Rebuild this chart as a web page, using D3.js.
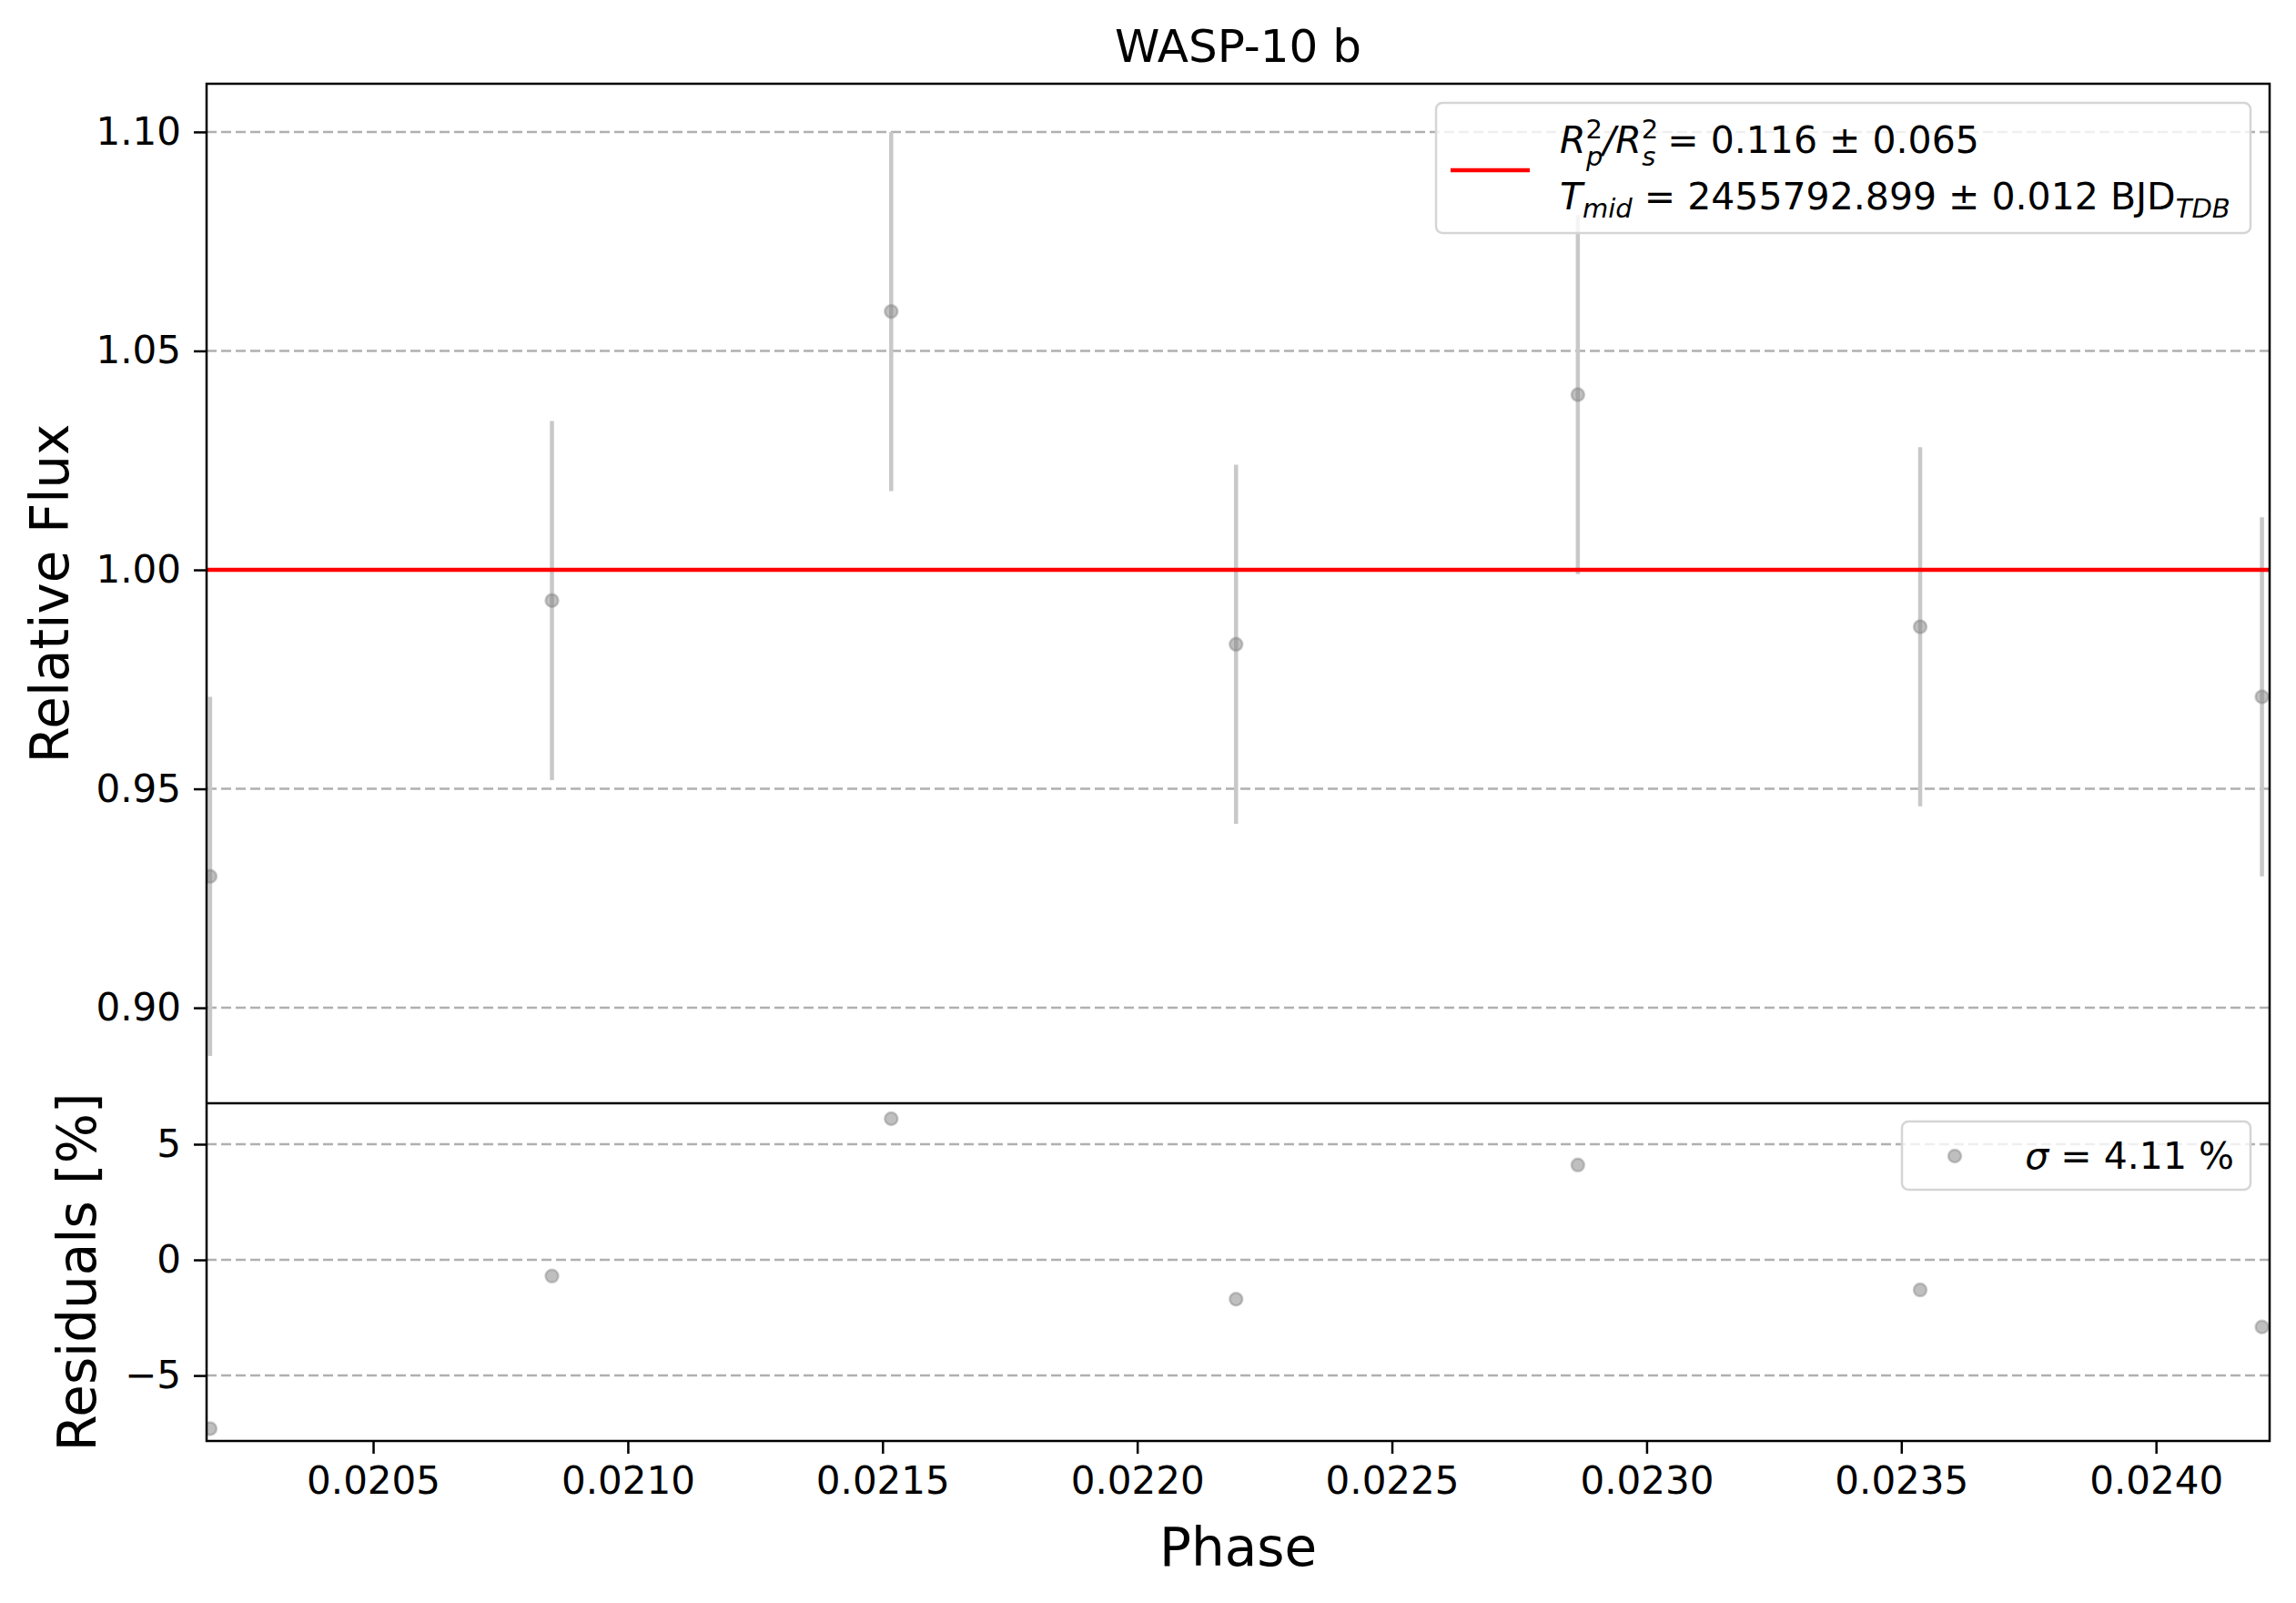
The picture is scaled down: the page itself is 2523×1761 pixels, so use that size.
<!DOCTYPE html>
<html><head><meta charset="utf-8">
<script src="https://cdn.jsdelivr.net/npm/d3@7"></script>
<style>body{margin:0;background:#fff}text{font-family:"DejaVu Sans",sans-serif}</style>
</head><body>
<script>
const phase=[0.02018,0.020851,0.021517,0.022194,0.022865,0.023537,0.024208];
const flux=[0.930,0.993,1.059,0.983,1.040,0.987,0.971];
const fluxErr=[0.041,0.041,0.041,0.041,0.041,0.041,0.041];
const resid=[-7.3,-0.7,6.1,-1.7,4.1,-1.3,-2.9];
const xTicks=[0.0205,0.0210,0.0215,0.0220,0.0225,0.0230,0.0235,0.0240];
const yTicks=[0.90,0.95,1.00,1.05,1.10];
const rTicks=[-5,0,5];
const W=2523,H=1761,L=227,R=2494,T1=92,B1=1212,B2=1583;
const svg=d3.select("body").append("svg").attr("width",W).attr("height",H);
const x=d3.scaleLinear().domain([0.020173,0.024223]).range([L,R]);
const y=d3.scaleLinear().domain([0.8782,1.111]).range([B1,T1]);
const yr=d3.scaleLinear().domain([-7.83,6.77]).range([B2,B1]);
const defs=svg.append("defs");
defs.append("clipPath").attr("id","c1").append("rect").attr("x",L).attr("y",T1).attr("width",R-L).attr("height",B1-T1);
defs.append("clipPath").attr("id","c2").append("rect").attr("x",L).attr("y",B1).attr("width",R-L).attr("height",B2-B1);
const grid=(sc,ticks)=>svg.append("g").selectAll("line").data(ticks).join("line")
 .attr("x1",L).attr("x2",R).attr("y1",d=>sc(d)).attr("y2",d=>sc(d))
 .attr("stroke","#b0b0b0").attr("stroke-width",2.5).attr("stroke-dasharray","11,5");
grid(y,yTicks);grid(yr,rTicks);
const mk=s=>s.attr("r",7).attr("fill","#808080").attr("fill-opacity",0.5).attr("stroke","#808080").attr("stroke-opacity",0.4).attr("stroke-width",2.5);
const g1=svg.append("g").attr("clip-path","url(#c1)");
g1.selectAll(".eb").data(phase).join("line").attr("x1",d=>x(d)).attr("x2",d=>x(d))
 .attr("y1",(d,i)=>y(flux[i]-fluxErr[i])).attr("y2",(d,i)=>y(flux[i]+fluxErr[i]))
 .attr("stroke","#c8c8c8").attr("stroke-width",4.5);
g1.append("line").attr("x1",L).attr("x2",R).attr("y1",y(1)).attr("y2",y(1)).attr("stroke","red").attr("stroke-width",4.5);
g1.selectAll("circle").data(phase).join("circle").attr("cx",d=>x(d)).attr("cy",(d,i)=>y(flux[i])).call(mk);
// legend 1
svg.append("rect").attr("x",1578).attr("y",113).attr("width",895).attr("height",143).attr("rx",7)
 .attr("fill","white").attr("fill-opacity",0.8).attr("stroke","#d5d5d5").attr("stroke-width",2.5);
svg.append("line").attr("x1",1594).attr("x2",1681).attr("y1",187).attr("y2",187).attr("stroke","red").attr("stroke-width",4.5);
const t1=svg.append("text").attr("x",1714).attr("y",168).attr("font-size",41);
t1.append("tspan").attr("font-style","italic").text("R");
t1.append("tspan").attr("font-size",29).attr("dy",-16).text("2");
t1.append("tspan").attr("font-size",29).attr("font-style","italic").attr("dx",-18).attr("dy",30).text("p");
t1.append("tspan").attr("font-style","italic").attr("dy",-14).text("/R");
t1.append("tspan").attr("font-size",29).attr("dy",-16).text("2");
t1.append("tspan").attr("font-size",29).attr("font-style","italic").attr("dx",-18).attr("dy",30).text("s");
t1.append("tspan").attr("dy",-14).text(" = 0.116 ± 0.065");
const t2=svg.append("text").attr("x",1714).attr("y",230).attr("font-size",41);
t2.append("tspan").attr("font-style","italic").text("T");
t2.append("tspan").attr("font-size",29).attr("font-style","italic").attr("dy",9).text("mid");
t2.append("tspan").attr("dy",-9).text(" = 2455792.899 ± 0.012 BJD");
t2.append("tspan").attr("font-size",29).attr("font-style","italic").attr("dy",9).text("TDB");
const g2=svg.append("g").attr("clip-path","url(#c2)");
g2.selectAll("circle").data(phase).join("circle").attr("cx",d=>x(d)).attr("cy",(d,i)=>yr(resid[i])).call(mk);
// legend 2
svg.append("rect").attr("x",2090).attr("y",1232).attr("width",383).attr("height",75).attr("rx",7)
 .attr("fill","white").attr("fill-opacity",0.8).attr("stroke","#d5d5d5").attr("stroke-width",2.5);
svg.append("circle").attr("cx",2148).attr("cy",1270).call(mk);
const t3=svg.append("text").attr("x",2455).attr("y",1284).attr("font-size",41).attr("text-anchor","end");
t3.append("tspan").attr("font-style","italic").text("σ");
t3.append("tspan").text(" = 4.11 %");
// frames
svg.append("rect").attr("x",L).attr("y",T1).attr("width",R-L).attr("height",B2-T1).attr("fill","none").attr("stroke","black").attr("stroke-width",2.5);
svg.append("line").attr("x1",L).attr("x2",R).attr("y1",B1).attr("y2",B1).attr("stroke","black").attr("stroke-width",2.5);
// axes
const st=g=>{g.select(".domain").remove();g.selectAll("line").attr("stroke-width",2.5);g.selectAll("text").attr("font-size",42).attr("font-family","DejaVu Sans").attr("fill","black");};
svg.append("g").attr("transform",`translate(${L},0)`).call(d3.axisLeft(y).tickValues(yTicks).tickFormat(d3.format(".2f")).tickSize(14).tickPadding(14)).call(st);
svg.append("g").attr("transform",`translate(${L},0)`).call(d3.axisLeft(yr).tickValues(rTicks).tickFormat(d=>d<0?"−"+Math.abs(d):d).tickSize(14).tickPadding(14)).call(st);
svg.append("g").attr("transform",`translate(0,${B2})`).call(d3.axisBottom(x).tickValues(xTicks).tickFormat(d3.format(".4f")).tickSize(14).tickPadding(14)).call(st);
svg.append("text").attr("x",(L+R)/2).attr("y",68).attr("text-anchor","middle").attr("font-size",50).text("WASP-10 b");
svg.append("text").attr("x",(L+R)/2).attr("y",1720).attr("text-anchor","middle").attr("font-size",58).text("Phase");
svg.append("text").attr("transform",`translate(75,${(T1+B1)/2}) rotate(-90)`).attr("text-anchor","middle").attr("font-size",58).text("Relative Flux");
svg.append("text").attr("transform",`translate(105,${(B1+B2)/2}) rotate(-90)`).attr("text-anchor","middle").attr("font-size",58).text("Residuals [%]");
</script></body></html>
